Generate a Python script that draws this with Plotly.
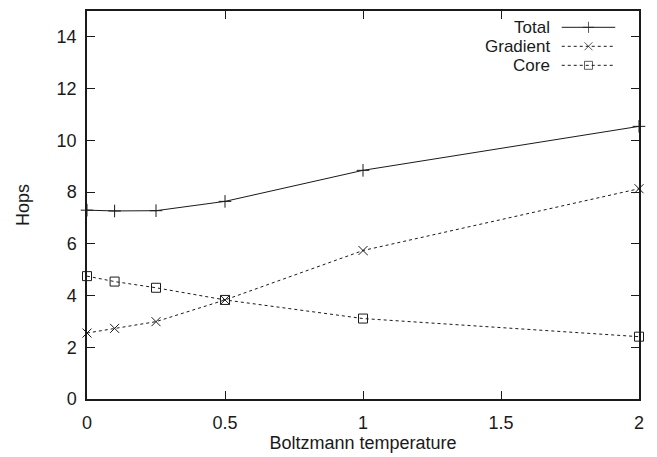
import plotly.graph_objects as go

# Boltzmann temperature sweep
temperature = [0, 0.1, 0.25, 0.5, 1, 2]
total_hops = [7.30, 7.27, 7.28, 7.64, 8.84, 10.54]
gradient_hops = [2.55, 2.73, 2.99, 3.83, 5.74, 8.13]
core_hops = [4.75, 4.54, 4.30, 3.83, 3.11, 2.41]

series_names = ["Total", "Gradient", "Core"]
x_ticks = [0, 0.5, 1, 1.5, 2]
x_tick_labels = ["0", "0.5", "1", "1.5", "2"]
y_ticks = [0, 2, 4, 6, 8, 10, 12, 14]

FONT = "Liberation Sans, Arial, Helvetica, sans-serif"
INK = "#1a1a1a"
DASH = "3px,3px"
FS = 18
KEY_FS = 17

styles = {
    "Total": dict(dash="solid", symbol="cross-thin"),
    "Gradient": dict(dash=DASH, symbol="x-thin"),
    "Core": dict(dash=DASH, symbol="square-open"),
}
values = {"Total": total_hops, "Gradient": gradient_hops, "Core": core_hops}

fig = go.Figure()

for name in series_names:
    st = styles[name]
    fig.add_trace(go.Scatter(
        x=temperature, y=values[name], mode="lines+markers", name=name,
        line=dict(color=INK, width=1, dash=st["dash"]),
        marker=dict(symbol=st["symbol"], size=9, color=INK,
                    line=dict(color=INK, width=1)),
        showlegend=False, cliponaxis=False,
    ))

# key in the upper right corner: label, then a line sample with its marker
key_rows = [0.958, 0.909, 0.860]
for name, yk in zip(series_names, key_rows):
    st = styles[name]
    fig.add_trace(go.Scatter(
        x=[0.860, 0.9085, 0.957], y=[yk, yk, yk], mode="lines+markers",
        xaxis="x2", yaxis="y2", showlegend=False, hoverinfo="skip",
        line=dict(color=INK, width=1, dash=st["dash"]),
        marker=dict(symbol=st["symbol"], size=[0, 8, 0], color=INK,
                    line=dict(color=INK, width=1)),
    ))
    fig.add_annotation(
        x=0.843, y=yk, xref="paper", yref="paper", text=name,
        showarrow=False, xanchor="right", yanchor="middle",
        font=dict(family=FONT, size=KEY_FS, color=INK),
    )

axis_common = dict(
    showgrid=False, zeroline=False, showline=True, linecolor=INK, linewidth=1.5,
    mirror="ticks", ticks="inside", ticklen=8, tickwidth=1.2, tickcolor=INK,
    tickfont=dict(family=FONT, size=FS, color=INK), automargin=False,
)

fig.update_layout(
    width=657, height=457,
    margin=dict(l=87, r=18, t=11, b=58),
    paper_bgcolor="white", plot_bgcolor="white",
    xaxis=dict(range=[0, 2], tickvals=x_ticks, ticktext=x_tick_labels,
               ticklabelstandoff=7,
               title=dict(text="Boltzmann temperature", standoff=4,
                          font=dict(family=FONT, size=FS, color=INK)),
               **axis_common),
    yaxis=dict(range=[0, 15], tickvals=y_ticks, ticklabelstandoff=5,
               title=dict(text="Hops", standoff=22,
                          font=dict(family=FONT, size=FS, color=INK)),
               **axis_common),
    xaxis2=dict(range=[0, 1], overlaying="x", visible=False, fixedrange=True),
    yaxis2=dict(range=[0, 1], overlaying="y", visible=False, fixedrange=True),
)

fig.write_html("out.html")
